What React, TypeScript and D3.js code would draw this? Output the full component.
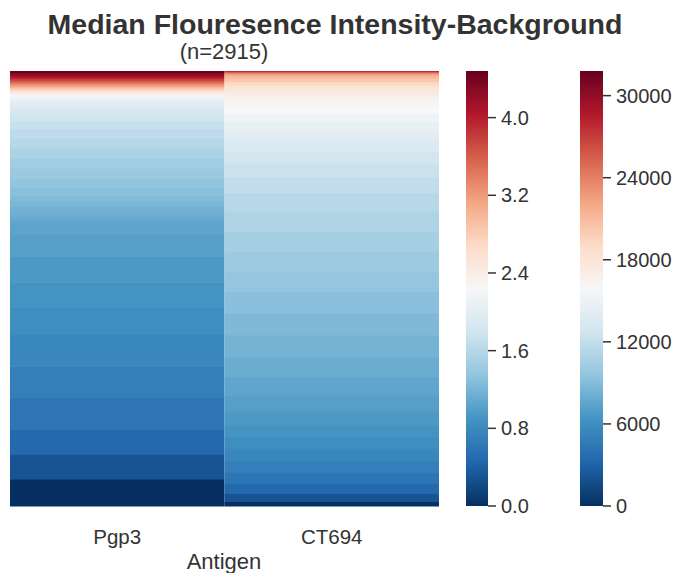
import * as d3 from 'd3';

// sorted log10(MFI-background) levels per antigen, top (highest) to bottom, and how many samples sit at each
const antigens = ['Pgp3', 'CT694'];
const total = 2915;

const pgp3Levels = [4.45, 4.3, 4.15, 4.0, 3.8, 3.6, 3.4, 3.2, 3.0, 2.8, 2.6, 2.45, 2.3, 2.16, 2.05, 1.96, 1.87, 1.79,
  1.72, 1.65, 1.59, 1.52, 1.46, 1.4, 1.35, 1.3, 1.25, 1.21, 1.17, 1.14, 1.114, 1.079, 1.041, 1.0, 0.954,
  0.903, 0.845, 0.778, 0.699, 0.602, 0.477, 0.301, 0];
const pgp3Counts = [13, 13, 13, 13, 13, 13, 13, 13, 13, 13, 13, 13, 13, 20, 27, 34, 40, 47,
  54, 60, 67, 67, 67, 67, 60, 54, 40, 34, 34, 27, 20, 27, 80, 147, 174,
  168, 181, 214, 208, 214, 168, 168, 178];

const ct694Levels = [3.9, 3.6, 3.35, 3.2, 3.05, 2.95, 2.85, 2.72, 2.6, 2.5, 2.42, 2.35, 2.29, 2.23, 2.15, 2.06,
  1.98, 1.9, 1.82, 1.75, 1.68, 1.61, 1.55, 1.48, 1.42, 1.36, 1.3, 1.24, 1.18, 1.12, 1.06, 1.0, 0.95, 0.9,
  0.845, 0.778, 0.699, 0.602, 0.477, 0.301, 0];
const ct694Counts = [7, 7, 7, 7, 13, 13, 20, 20, 20, 27, 27, 34, 40, 47, 54, 60,
  67, 67, 80, 94, 107, 121, 134, 134, 134, 134, 147, 147, 147, 134, 121, 107, 94, 80,
  80, 80, 80, 74, 67, 54, 27];

const logTicks = [0.0, 0.8, 1.6, 2.4, 3.2, 4.0];
const logMax = 4.48;
const linTicks = [0, 6000, 12000, 18000, 24000, 30000];
const linMax = 31800;

// matplotlib RdBu_r
const rdbu = ['#053061', '#2166ac', '#4393c3', '#92c5de', '#d1e5f0', '#f7f7f7', '#fddbc7', '#f4a582', '#d6604d', '#b2182b', '#67001f'];

export default function App() {
  const width = 683;
  const height = 573;
  const top = 71;
  const bottom = 506;
  const font = 'Liberation Sans, Arial, sans-serif';
  const textColor = '#333333';

  const x = d3.scaleBand().domain(antigens).range([10, 439]);
  const color = d3.scaleLinear<string>()
    .domain(d3.range(rdbu.length).map(i => (i / (rdbu.length - 1)) * logMax))
    .range(rdbu)
    .clamp(true);

  const columns = [
    { name: 'Pgp3', levels: pgp3Levels, counts: pgp3Counts },
    { name: 'CT694', levels: ct694Levels, counts: ct694Counts },
  ];

  const cb1 = { x: 466, w: 22 };
  const cb2 = { x: 580, w: 23 };
  const yLog = d3.scaleLinear().domain([0, logMax]).range([bottom, top]);
  const yLin = d3.scaleLinear().domain([0, linMax]).range([bottom, top]);
  const stops = d3.range(0, 1.0001, 0.02);

  return (
    <svg width={width} height={height} style={{ position: 'absolute', left: 0, top: 0, background: '#fff' }}>
      <defs>
        <linearGradient id="rdbu" x1="0" y1="1" x2="0" y2="0">
          {stops.map(s => (
            <stop key={s} offset={s} stopColor={color(s * logMax)} />
          ))}
        </linearGradient>
      </defs>

      {columns.map(col => {
        const n = d3.sum(col.counts);
        const y = d3.scaleLinear().domain([0, n]).range([top, bottom]);
        const cum = d3.cumsum(col.counts);
        return (
          <g key={col.name}>
            {col.levels.map((v, i) => {
              const y0 = y(i === 0 ? 0 : cum[i - 1]);
              const y1 = y(cum[i]);
              return (
                <rect key={i} x={x(col.name)} y={y0} width={x.bandwidth()} height={y1 - y0 + 0.5}
                  fill={color(v)} />
              );
            })}
          </g>
        );
      })}

      <text x={335} y={34} textAnchor="middle" fontFamily={font} fontWeight="bold" fontSize={28.5} fill={textColor}>
        Median Flouresence Intensity-Background
      </text>
      <text x={224} y={59} textAnchor="middle" fontFamily={font} fontSize={22} fill={textColor}>
        (n={total})
      </text>

      {antigens.map(a => (
        <text key={a} x={(x(a) as number) + x.bandwidth() / 2} y={544} textAnchor="middle" fontFamily={font}
          fontSize={20.5} fill={textColor}>{a}</text>
      ))}
      <text x={224} y={569} textAnchor="middle" fontFamily={font} fontSize={22} fill={textColor}>Antigen</text>

      <rect x={cb1.x} y={top} width={cb1.w} height={bottom - top} fill="url(#rdbu)" />
      {logTicks.map(t => (
        <g key={t} transform={`translate(${cb1.x + cb1.w},${yLog(t)})`}>
          <line x1={0} x2={8} stroke={textColor} strokeWidth={1.5} />
          <text x={13} dy="0.35em" fontFamily={font} fontSize={20} fill={textColor}>{d3.format('.1f')(t)}</text>
        </g>
      ))}

      <rect x={cb2.x} y={top} width={cb2.w} height={bottom - top} fill="url(#rdbu)" />
      {linTicks.map(t => (
        <g key={t} transform={`translate(${cb2.x + cb2.w},${yLin(t)})`}>
          <line x1={0} x2={8} stroke={textColor} strokeWidth={1.5} />
          <text x={13} dy="0.35em" fontFamily={font} fontSize={20} fill={textColor}>{t}</text>
        </g>
      ))}
    </svg>
  );
}
